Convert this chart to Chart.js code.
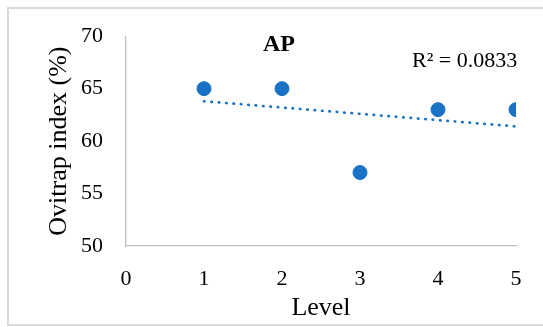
<!DOCTYPE html>
<html>
<head>
<meta charset="utf-8">
<script src="https://cdn.jsdelivr.net/npm/chart.js@4"></script>
<style>
  html, body { margin: 0; padding: 0; background: #fff; }
  #wrap { width: 543px; height: 327px; position: relative; }
</style>
</head>
<body>
<div id="wrap"><canvas id="chart" width="543" height="327"></canvas></div>
<script>
const levels = [1, 2, 3, 4, 5];
const ovitrapIndex = [65, 65, 57, 63, 63];
const trendLevels = [1, 5];
const trendValues = [63.8, 61.4];
const xTicks = [0, 1, 2, 3, 4, 5];
const yTicks = [50, 55, 60, 65, 70];
const chartTitle = "AP";
const r2Label = "R\u00b2 = 0.0833";
const xTitle = "Level";
const yTitle = "Ovitrap index (%)";

const BLUE = "#1a72c7";
const AXIS_GREY = "#bfbfbf";
const FONT = "'Liberation Serif', 'Times New Roman', serif";

const frameAndLabels = {
  id: "frameAndLabels",
  beforeDraw(chart) {
    const { ctx } = chart;
    ctx.save();
    ctx.strokeStyle = "#d9d9d9";
    ctx.lineWidth = 2;
    ctx.strokeRect(8, 8, 600, 317);
    ctx.restore();
  },
  afterDatasetsDraw(chart) {
    const { ctx } = chart;
    ctx.save();
    ctx.fillStyle = "#000";
    ctx.textBaseline = "middle";
    ctx.font = "bold 24px " + FONT;
    ctx.textAlign = "center";
    ctx.fillText(chartTitle, 279, 45);
    ctx.font = "22px " + FONT;
    ctx.textAlign = "left";
    ctx.fillText(r2Label, 412, 61);
    ctx.restore();
  },
};

const points = levels.map((x, i) => ({ x: x, y: ovitrapIndex[i] }));
const trend = trendLevels.map((x, i) => ({ x: x, y: trendValues[i] }));

new Chart(document.getElementById("chart"), {
  type: "scatter",
  data: {
    datasets: [
      {
        type: "line",
        data: trend,
        borderColor: BLUE,
        borderWidth: 2.7,
        borderDash: [0.5, 6.9],
        borderCapStyle: "round",
        pointRadius: 0,
        fill: false,
        order: 2,
      },
      {
        data: points,
        backgroundColor: BLUE,
        borderColor: BLUE,
        pointRadius: 7,
        pointHoverRadius: 7,
        order: 1,
      },
    ],
  },
  options: {
    responsive: false,
    animation: false,
    events: [],
    layout: {
      padding: { top: 34, right: 27, left: 0, bottom: 0 },
    },
    scales: {
      x: {
        type: "linear",
        min: xTicks[0],
        max: xTicks[xTicks.length - 1],
        afterBuildTicks: (scale) => {
          scale.ticks = xTicks.map((v) => ({ value: v }));
        },
        afterFit: (scale) => {
          scale.height = 81;
        },
        grid: { display: false, drawTicks: false },
        border: { display: true, color: AXIS_GREY, width: 1.3 },
        ticks: {
          color: "#000",
          padding: 20,
          font: { size: 22, family: FONT },
        },
        title: {
          display: true,
          text: xTitle,
          color: "#000",
          padding: { top: 0, bottom: 3 },
          font: { size: 26, family: FONT },
        },
      },
      y: {
        type: "linear",
        min: yTicks[0],
        max: yTicks[yTicks.length - 1],
        afterBuildTicks: (scale) => {
          scale.ticks = yTicks.map((v) => ({ value: v }));
        },
        afterFit: (scale) => {
          scale.width = 126;
        },
        grid: { display: false, drawTicks: false },
        border: { display: true, color: AXIS_GREY, width: 1.3 },
        ticks: {
          color: "#000",
          padding: 23,
          font: { size: 22, family: FONT },
        },
        title: {
          display: true,
          text: yTitle,
          color: "#000",
          padding: { top: 44, bottom: 0 },
          font: { size: 26, family: FONT },
        },
      },
    },
    plugins: {
      legend: { display: false },
      tooltip: { enabled: false },
    },
  },
  plugins: [frameAndLabels],
});
</script>
</body>
</html>
